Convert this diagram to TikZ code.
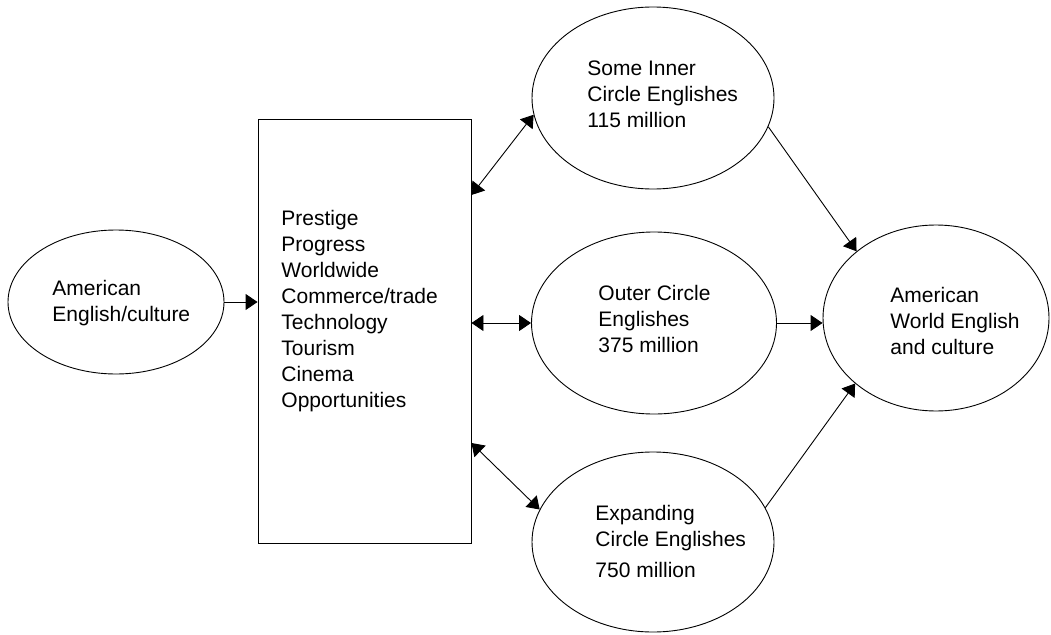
\documentclass[tikz,border=0pt]{standalone}
\usepackage{fontspec}
\setmainfont{Liberation Sans}
\usetikzlibrary{shapes.geometric,arrows.meta,calc}
\begin{document}
\begin{tikzpicture}[x=1pt,y=-1pt, line width=0.9pt,
  ell/.style={draw, ellipse, inner sep=0pt},
  lbl/.style={anchor=north west, inner sep=0pt, align=left, font=\fontsize{21}{26}\selectfont},
  tip/.style={-{Triangle[length=12pt,width=16pt]}},
  both/.style={{Triangle[length=12pt,width=16pt]}-{Triangle[length=12pt,width=16pt]}}]
\useasboundingbox (0,0) rectangle (1051,634);
% shapes
\node[ell, minimum width=216pt, minimum height=144pt] (src) at (116,302) {};
\node[draw, minimum width=213pt, minimum height=424pt, inner sep=0pt] (box) at (364.5,331) {};
\node[ell, minimum width=242pt, minimum height=182pt] (inner) at (653,98) {};
\node[ell, minimum width=245pt, minimum height=182pt] (outer) at (654,323) {};
\node[ell, minimum width=242pt, minimum height=180pt] (expand) at (653,542) {};
\node[ell, minimum width=226pt, minimum height=186pt] (world) at (936,318) {};
% labels
\node[lbl] (srcT) at (52,276.8) {\strut American\\English/culture};
\node[lbl] (boxT) at (281,206.8) {\strut Prestige\\Progress\\Worldwide\\Commerce/trade\\Technology\\Tourism\\Cinema\\Opportunities};
\node[lbl] (innerT) at (587,56.8) {\strut Some Inner\\Circle Englishes\\115 million};
\node[lbl] (outerT) at (598,281.8) {\strut Outer Circle\\Englishes\\375 million};
\node[lbl] (expandT) at (595,501.8) {\strut Expanding\\Circle Englishes\\[5pt]750 million};
\node[lbl] (worldT) at (890,283.8) {\strut American\\World English\\and culture};
% connectors
\draw[tip] (src.east) -- (src.east -| box.west);
\draw[both] ([yshift=136pt]box.east) -- (inner.188);
\draw[both] (outer.west -| box.east) -- (outer.west);
\draw[both] ([yshift=-112pt]box.east) -- (expand.164.5);
\draw[tip] (inner.346) -- (world.140.6);
\draw[tip] (outer.east) -- (outer.east -| world.west);
\draw[tip] (expand.17) -- (world.219.6);
\end{tikzpicture}
\end{document}
